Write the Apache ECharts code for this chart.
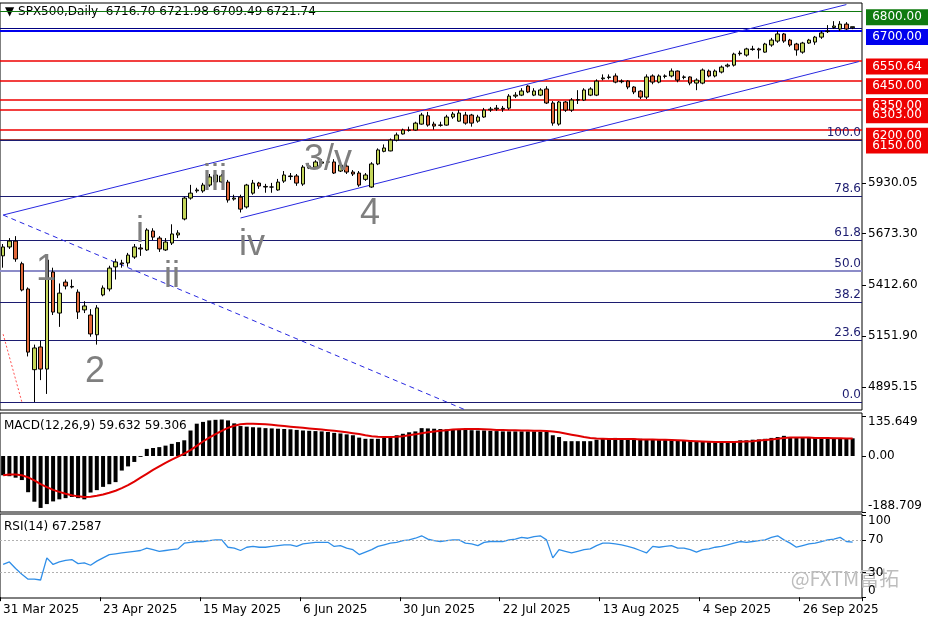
<!DOCTYPE html>
<html><head><meta charset="utf-8">
<script src="https://cdn.jsdelivr.net/npm/echarts@6/dist/echarts.min.js"></script>
<style>html,body{margin:0;padding:0;background:#fff}#c{width:936px;height:624px}</style>
</head><body><div id="c"></div>
<script>
const titleText = '\u25BC SPX500,Daily  6716.70 6721.98 6709.49 6721.74';
const openP = [5560,5605,5635,5520,5392,4983,5098,4986,5478,5270,
 5427,5405,5376,5286,5260,5160,5362,5392,5504,5524,
 5524,5554,5600,5590,5686,5650,5590,5625,5666,5747,
 5853,5890,5889,5919,5935,5935,5934,5848,5858,5808,
 5878,5929,5912,5909,5894,5939,5962,5965,5924,6005,
 6010,6030,6036,6036,5990,6015,5985,5980,5948,5909,
 6026,6090,6092,6147,6178,6196,6198,6228,6270,6228,
 6222,6223,6264,6243,6274,6274,6243,6264,6300,6305,
 6308,6309,6370,6375,6421,6375,6375,6406,6335,6228,
 6340,6299,6352,6350,6375,6375,6458,6464,6472,6443,
 6446,6416,6395,6365,6472,6441,6470,6472,6497,6465,
 6467,6436,6436,6497,6472,6492,6522,6527,6585,6578,
 6606,6609,6593,6629,6649,6685,6654,6634,6593,6639,
 6644,6669,6697,6718,6710,6735,6716.70];
const closeP = [5605,5635,5544,5387,5072,5093,4986,5539,5275,5371,
 5407,5402,5275,5306,5164,5296,5397,5498,5529,5519,
 5564,5605,5595,5691,5655,5595,5630,5671,5676,5853,
 5878,5894,5919,5960,5970,5965,5843,5853,5797,5919,
 5929,5914,5909,5909,5934,5970,5965,5929,6010,6015,
 6036,6036,6036,5980,6020,5985,5975,5919,5970,6026,
 6097,6107,6147,6173,6198,6198,6233,6274,6223,6218,
 6223,6264,6279,6284,6233,6233,6264,6299,6304,6309,
 6304,6370,6375,6396,6391,6396,6401,6335,6233,6340,
 6299,6350,6350,6401,6406,6446,6462,6467,6441,6446,
 6416,6391,6365,6467,6441,6472,6472,6497,6451,6467,
 6436,6451,6502,6472,6497,6517,6527,6583,6588,6609,
 6609,6604,6634,6654,6685,6649,6629,6604,6639,6654,
 6669,6690,6700,6725,6735,6710,6721.74];
const highP = [5620,5650,5660,5530,5400,5110,5130,5560,5500,5420,
 5440,5440,5390,5330,5290,5310,5410,5510,5545,5540,
 5575,5620,5620,5700,5700,5660,5650,5720,5690,5860,
 5920,5905,5930,5975,5990,5975,5945,5870,5870,5925,
 5945,5935,5925,5930,5950,5990,5980,5975,6020,6030,
 6045,6050,6045,6050,6030,6025,5995,5990,5980,6035,
 6105,6125,6155,6185,6205,6215,6240,6285,6290,6240,
 6240,6275,6290,6300,6290,6280,6275,6310,6315,6325,
 6320,6380,6390,6410,6425,6410,6410,6420,6345,6345,
 6345,6360,6400,6410,6415,6455,6480,6480,6485,6455,
 6450,6420,6400,6480,6480,6480,6480,6510,6500,6475,
 6470,6460,6510,6505,6505,6525,6535,6590,6600,6615,
 6625,6615,6640,6665,6700,6690,6660,6640,6645,6660,
 6675,6700,6730,6750,6750,6745,6721.98];
const lowP = [5500,5595,5530,5380,5050,4819,4930,4860,5260,5200,
 5390,5395,5240,5270,5150,5110,5355,5380,5440,5500,
 5505,5545,5560,5585,5640,5580,5585,5615,5650,5740,
 5845,5880,5880,5910,5930,5930,5830,5840,5780,5800,
 5870,5900,5880,5880,5890,5930,5945,5915,5915,6000,
 6000,6025,6025,5975,5985,5975,5965,5910,5940,5905,
 6020,6085,6090,6140,6175,6190,6195,6225,6215,6200,
 6215,6220,6255,6240,6225,6215,6235,6260,6290,6295,
 6290,6300,6360,6370,6385,6370,6370,6330,6220,6220,
 6290,6290,6330,6345,6370,6370,6450,6455,6435,6435,
 6405,6380,6355,6355,6430,6435,6460,6465,6440,6455,
 6425,6400,6430,6465,6465,6485,6515,6520,6575,6570,
 6600,6560,6590,6620,6640,6640,6620,6575,6585,6635,
 6630,6660,6690,6710,6700,6705,6709.49];
const macdMain = [-65,-68,-73,-81,-122,-154,-175,-162,-153,-146,
 -142,-138,-142,-146,-123,-115,-104,-95,-88,-49,
 -35,-20,-3,24,27,30,35,41,47,53,
 86,109,115,120,122,123,120,110,101,99,
 97,96,94,93,92,91,90,88,86,85,
 84,83,81,78,76,73,70,62,58,58,
 58,61,64,70,75,80,83,94,93,92,
 91,90,90,89,88,87,86,86,85,84,
 83,83,83,83,83,83,82,81,70,64,
 50,50,50,50,50,55,58,60,61,60,
 59,58,58,57,57,56,56,55,54,53,
 53,50,49,47,47,48,48,50,53,53,
 55,56,58,61,64,68,64,62,61,61,
 61,61,61,61,60,60,59.632];
const macdSignal = [-65,-62,-62,-65,-72,-82,-95,-105,-114,-121,
 -127,-132,-136,-138,-137,-134,-130,-124,-117,-108,
 -98,-86,-73,-60,-47,-35,-23,-12,-2,8,
 20,34,49,62,74,85,95,102,107,109,
 109,108,107,105,103,101,99,97,95,93,
 91,89,87,85,83,80,77,74,70,67,
 65,64,64,65,67,70,73,77,80,83,
 85,87,89,90,91,91,91,90,89,88,
 88,87,87,86,86,85,85,84,83,80,
 76,72,68,64,61,59,58,57,57,57,
 57,57,56,56,56,55,55,54,53,52,
 51,50,49,48,47,47,47,47,48,49,
 50,52,54,56,58,61,62,62,62,62,
 61,61,61,60,60,59,59.306];
const rsi = [40,43,35,28,22,22,21,48,40,43,
 45,46,41,42,39,44,48,52,53,54,
 55,56,57,60,58,56,57,58,59,66,
 67,68,68,69,70,70,61,60,57,61,
 62,61,61,62,63,64,64,62,65,66,
 67,67,67,62,63,60,58,52,55,58,
 62,64,66,67,69,70,72,75,71,69,
 68,69,70,70,66,65,63,67,68,68,
 68,70,71,73,72,74,75,70,48,58,
 56,54,56,58,59,63,66,66,65,64,
 62,60,57,54,62,61,62,63,60,60,
 58,55,58,59,61,62,64,66,68,67,
 68,69,70,73,75,70,66,61,63,65,
 66,68,70,71,73,68,67.2587];
const startDate = '2025-03-31', skipDates = ['2025-04-18'], categoryCount = 138, labelEvery = 16;
const priceTicks = [5930.05, 5673.30, 5412.60, 5151.90, 4895.15];
const macdTicks = [[135.649, '135.649', 'top'], [0, '0.00', 'middle'], [-188.709, '-188.709', 'bottom']];
const rsiTicks = [[100, '100', 'top'], [70, '70', 'middle'], [30, '30', 'middle'], [0, '0', 'bottom']];
const levelBoxes = [
  [6800, '6800.00', '#0f7a0f'], [6700, '6700.00', '#0000ee'],
  [6550.64, '6550.64', '#ee0000'], [6450, '6450.00', '#ee0000'],
  [6303, '6303.00', '#ee0000'], [6350, '6350.00', '#ee0000'],
  [6150, '6150.00', '#ee0000'], [6200, '6200.00', '#ee0000']];
const redLevels = [6550.64, 6450, 6350, 6303, 6200];
const fibValues = [6147, 5863, 5640, 5483, 5327, 5133, 4820];
const fibNames = ['100.0', '78.6', '61.8', '50.0', '38.2', '23.6', '0.0'];
const channelUpper = [[0, 5767], [135, 6834]];
const channelLower = [[38, 5752], [137, 6545]];
const dashedDown = [[0, 5767], [74, 4779]];
const redDotted = [[0, 5163], [3, 4819]];
const waveLabels = [['1', 46, 270], ['2', 95, 372], ['3/v', 328, 160], ['4', 370, 214], ['i', 140, 232], ['ii', 172, 277], ['iii', 215, 180], ['iv', 252, 245]];

const months = ['Jan','Feb','Mar','Apr','May','Jun','Jul','Aug','Sep','Oct','Nov','Dec'];
const cats = [];
{ let d = new Date(startDate + 'T00:00:00Z');
  while (cats.length < categoryCount) {
    const iso = d.toISOString().slice(0,10), wd = d.getUTCDay();
    if (wd !== 0 && wd !== 6 && !skipDates.includes(iso)) cats.push(d.getUTCDate() + ' ' + months[d.getUTCMonth()] + ' ' + d.getUTCFullYear());
    d = new Date(d.getTime() + 86400000);
  } }
const kdata = openP.map((o, i) => [o, closeP[i], lowP[i], highP[i]]);
const F = 'DejaVu Sans';
const FS = 12;
const chart = echarts.init(document.getElementById('c'), null, {renderer: 'canvas'});
const lbl = (i) => i % labelEvery === 0;
const xBase = {type: 'category', data: cats, boundaryGap: true, axisLine: {show: false}, axisTick: {show: false}, axisLabel: {show: false}, splitLine: {show: false}};
const markLines = [];
markLines.push({yAxis: 6800, lineStyle: {color: '#0f7a0f', width: 1, type: 'solid'}});
markLines.push({yAxis: 6715, lineStyle: {color: '#000080', width: 1, type: 'solid'}});
markLines.push({yAxis: 6700, lineStyle: {color: '#0000ee', width: 2, type: 'solid'}});
redLevels.forEach(v => markLines.push({yAxis: v, lineStyle: {color: '#ee0000', width: 1.5, type: 'solid'}}));
markLines.push({yAxis: 6150, lineStyle: {color: '#800000', width: 1.5, type: 'solid'}});
fibValues.forEach((v, k) => markLines.push({yAxis: v, lineStyle: {color: k === 3 ? '#8c8cc8' : '#1c1c70', width: k === 3 ? 2 : 1, type: 'solid'},
  label: {show: true, position: 'insideEndTop', formatter: fibNames[k], color: '#1c1c70', fontFamily: F, fontSize: FS, distance: [1, 1]}}));
const annot = (data, color, type) => ({type: 'line', xAxisIndex: 0, yAxisIndex: 0, data, symbol: 'none', silent: true, lineStyle: {color, width: 1, type}, z: 3});
const tickOnly = (vals) => ({show: true, customValues: vals, length: 4, lineStyle: {color: '#000'}});
chart.setOption({
  animation: false,
  grid: [
    {left: 0, right: 74, top: 3, height: 407, show: true, borderColor: '#000', borderWidth: 1},
    {left: 0, right: 74, top: 413, height: 99, show: true, borderColor: '#000', borderWidth: 1},
    {left: 0, right: 74, top: 514, height: 84, show: true, borderColor: '#000', borderWidth: 1}],
  xAxis: [Object.assign({gridIndex: 0}, xBase), Object.assign({gridIndex: 1}, xBase),
    Object.assign({}, xBase, {gridIndex: 2, axisTick: {show: true, interval: lbl, length: 4, lineStyle: {color: '#000'}},
      axisLabel: {show: true, interval: lbl, align: 'left', margin: 6, color: '#000', fontFamily: F, fontSize: FS}})],
  yAxis: [
    {gridIndex: 0, position: 'right', min: 4778.5, max: 6842, splitLine: {show: false}, axisLine: {show: false},
      axisTick: tickOnly(priceTicks),
      axisLabel: {customValues: priceTicks, formatter: v => v.toFixed(2), color: '#000', fontFamily: F, fontSize: FS, margin: 6}},
    {gridIndex: 1, position: 'right', min: -188.709, max: 145, splitLine: {show: false}, axisLine: {show: false},
      axisTick: tickOnly(macdTicks.map(t => t[0])), axisLabel: {show: false}},
    {gridIndex: 2, position: 'right', min: -1, max: 101.6, splitLine: {show: false}, axisLine: {show: false},
      axisTick: tickOnly(rsiTicks.map(t => t[0])), axisLabel: {show: false}}],
  series: [
    {type: 'candlestick', xAxisIndex: 0, yAxisIndex: 0, data: kdata, barWidth: 4, z: 4,
      itemStyle: {color: '#c4d65a', color0: '#e2683a', borderColor: '#000', borderColor0: '#000', borderWidth: 1},
      markLine: {silent: true, symbol: 'none', animation: false, label: {show: false}, data: markLines, z: 2}},
    annot(channelUpper, '#2828e0', 'solid'), annot(channelLower, '#2828e0', 'solid'),
    annot(dashedDown, '#2828e0', [5, 4]), annot(redDotted, '#ff5050', [2, 2]),
    {type: 'bar', xAxisIndex: 1, yAxisIndex: 1, data: macdMain, barWidth: 4, itemStyle: {color: '#000'}},
    {type: 'line', xAxisIndex: 1, yAxisIndex: 1, data: macdSignal, symbol: 'none', lineStyle: {color: '#e00000', width: 2}, z: 5},
    {type: 'line', xAxisIndex: 2, yAxisIndex: 2, data: rsi, symbol: 'none', lineStyle: {color: '#2f8ee8', width: 1.3},
      markLine: {silent: true, symbol: 'none', label: {show: false}, lineStyle: {color: '#b0b0b0', type: [2, 2], width: 1}, data: [{yAxis: 70}, {yAxis: 30}]}}
  ]
});
const g = [];
const font = FS + 'px "' + F + '"';
g.push({type: 'text', left: 5, top: 6, style: {text: titleText, font, fill: '#000'}});
g.push({type: 'text', left: 4, top: 420, style: {text: 'MACD(12,26,9) 59.632 59.306', font, fill: '#000'}});
g.push({type: 'text', left: 4, top: 521, style: {text: 'RSI(14) 67.2587', font, fill: '#000'}});
waveLabels.forEach(([t, x, y]) => g.push({type: 'text', x, y, z: 30, style: {text: t, font: '36px "Liberation Sans"', fill: '#7f7f7f', align: 'center', verticalAlign: 'middle'}}));
g.push({type: 'text', x: 845, y: 578, z: 10, style: {text: '@FXTM富拓', font: '20px "Noto Sans CJK SC"', fill: '#bdbdbd', align: 'center', verticalAlign: 'middle'}});
macdTicks.forEach(([v, t, va]) => g.push({type: 'text', x: 868, y: chart.convertToPixel({yAxisIndex: 1}, v), z: 20,
  style: {text: t, font, fill: '#000', align: 'left', verticalAlign: va}}));
rsiTicks.forEach(([v, t, va]) => g.push({type: 'text', x: 868, y: chart.convertToPixel({yAxisIndex: 2}, v), z: 20,
  style: {text: t, font, fill: '#000', align: 'left', verticalAlign: va}}));
levelBoxes.forEach(([v, t, bg]) => {
  const y = chart.convertToPixel({yAxisIndex: 0}, v);
  g.push({type: 'rect', shape: {x: 866, y: y - 2, width: 62, height: 16}, style: {fill: bg}, z: 20});
  g.push({type: 'text', x: 897, y: y + 6, z: 21, style: {text: t, font, fill: '#fff', align: 'center', verticalAlign: 'middle'}});
});
chart.setOption({graphic: g});
</script></body></html>
